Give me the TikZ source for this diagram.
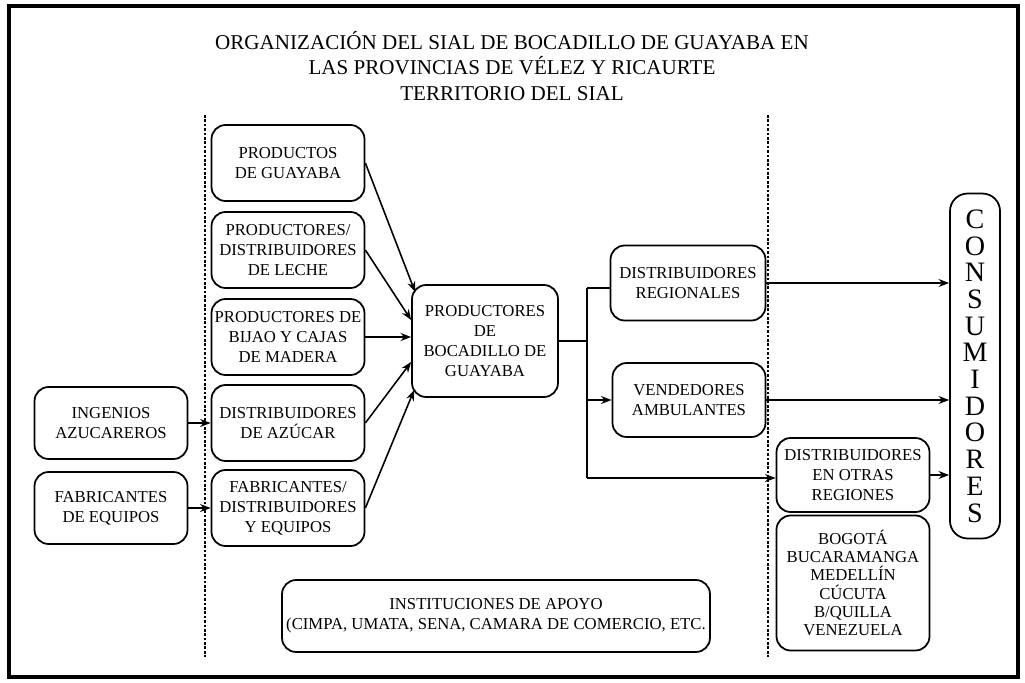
\documentclass[tikz,border=0pt]{standalone}
\usepackage{fontspec}
\setmainfont{Liberation Serif}
\usepackage{tikz}
\usetikzlibrary{arrows.meta,calc}

\begin{document}
\begin{tikzpicture}[x=0.02cm,y=-0.02cm,
		kasten/.style={draw,line width=1pt,rounded corners=8pt,align=center,inner sep=1pt,
			minimum width=3.06cm,minimum height=1.52cm,font=\fontsize{9.5}{11.3}\selectfont},
		pfeil/.style={line width=0.9pt,-{Stealth[length=6pt,width=4.5pt]}},
		linie/.style={line width=0.9pt},
		grenze/.style={line width=0.9pt,dash pattern=on 1.5pt off 1pt}]
		\useasboundingbox (0,0) rectangle (1025,683);

		% Rahmen
		\draw[line width=2pt] (9,6) rectangle (1018,677);

		% Titel
		\node[align=center,font=\fontsize{12}{14.5}\selectfont] (titel) at (512,66)
			{ORGANIZACIÓN DEL SIAL DE BOCADILLO DE GUAYABA EN\\LAS PROVINCIAS DE VÉLEZ Y RICAURTE\\TERRITORIO DEL SIAL};

		% Grenzen
		\draw[grenze] (205,115) -- (205,657);
		\draw[grenze] (768,115) -- (768,657);

		% Kaesten
		\node[kasten] (guayaba) at (288,163) {PRODUCTOS\\DE GUAYABA};
		\node[kasten] (leche) at (288,250) {PRODUCTORES/\\DISTRIBUIDORES\\DE LECHE};
		\node[kasten] (bijao) at (288,337) {PRODUCTORES DE\\BIJAO Y CAJAS\\DE MADERA};
		\node[kasten] (azucar) at (288,423) {DISTRIBUIDORES\\DE AZÚCAR};
		\node[kasten] (equipos) at (288,508) {FABRICANTES/\\DISTRIBUIDORES\\Y EQUIPOS};
		\node[kasten,minimum height=1.44cm] (ingenios) at (111,423) {INGENIOS\\AZUCAREROS};
		\node[kasten,minimum height=1.44cm] (fabricantes) at (111,508) {FABRICANTES\\DE EQUIPOS};
		\node[kasten,minimum width=2.92cm,minimum height=2.24cm] (bocadillo) at (485,341)
			{PRODUCTORES\\DE\\BOCADILLO DE\\GUAYABA};
		\node[kasten,minimum width=3.1cm,minimum height=1.5cm] (regionales) at (688,283) {DISTRIBUIDORES\\REGIONALES};
		\node[kasten,minimum height=1.48cm] (ambulantes) at (689,400) {VENDEDORES\\AMBULANTES};
		\node[kasten,minimum height=1.48cm] (otras) at (853,475) {DISTRIBUIDORES\\EN OTRAS\\REGIONES};
		\node[kasten,minimum height=2.7cm,font=\fontsize{9.5}{10.4}\selectfont] (ciudades) at (853,583)
			{BOGOTÁ\\BUCARAMANGA\\MEDELLÍN\\CÚCUTA\\B/QUILLA\\VENEZUELA};
		\node[kasten,minimum width=1cm,minimum height=6.9cm,rounded corners=10pt,
			font=\fontsize{16}{15.2}\selectfont] (consumidores) at (975,366)
			{C\\O\\N\\S\\U\\M\\I\\D\\O\\R\\E\\S};
		\node[kasten,minimum width=8.56cm,minimum height=1.44cm] (apoyo) at (496,616)
			{INSTITUCIONES DE APOYO\\(CIMPA, UMATA, SENA, CAMARA DE COMERCIO, ETC.};

		% Pfeile links
		\draw[pfeil] (ingenios.east) -- (azucar.west);
		\draw[pfeil] (fabricantes.east) -- (equipos.west);
		\draw[pfeil] (guayaba.east) -- ($(bocadillo.west)+(4,-49)$);
		\draw[pfeil] (leche.east) -- ($(bocadillo.west)+(0,-21)$);
		\draw[pfeil] (bijao.east) -- (bijao.east -| bocadillo.west);
		\draw[pfeil] (azucar.east) -- ($(bocadillo.west)+(0,21)$);
		\draw[pfeil] (equipos.east) -- ($(bocadillo.west)+(3,49)$);

		% Verteilung
		\coordinate (knoten) at ($(bocadillo.east)+(29,0)$);
		\coordinate (oben) at (587,288);
		\coordinate (unten) at (587,478);
		\draw[linie] (bocadillo.east) -- (knoten);
		\draw[linie] (oben) -- (unten);
		\draw[linie] (oben) -- (oben -| regionales.west);
		\draw[pfeil] (knoten |- ambulantes.west) -- (ambulantes.west);
		\draw[pfeil] (unten) -- (unten -| otras.west);

		% Pfeile rechts
		\draw[pfeil] (regionales.east) -- (regionales.east -| consumidores.west);
		\draw[pfeil] (ambulantes.east) -- (ambulantes.east -| consumidores.west);
		\draw[pfeil] (otras.east) -- (otras.east -| consumidores.west);
	\end{tikzpicture}
\end{document}
